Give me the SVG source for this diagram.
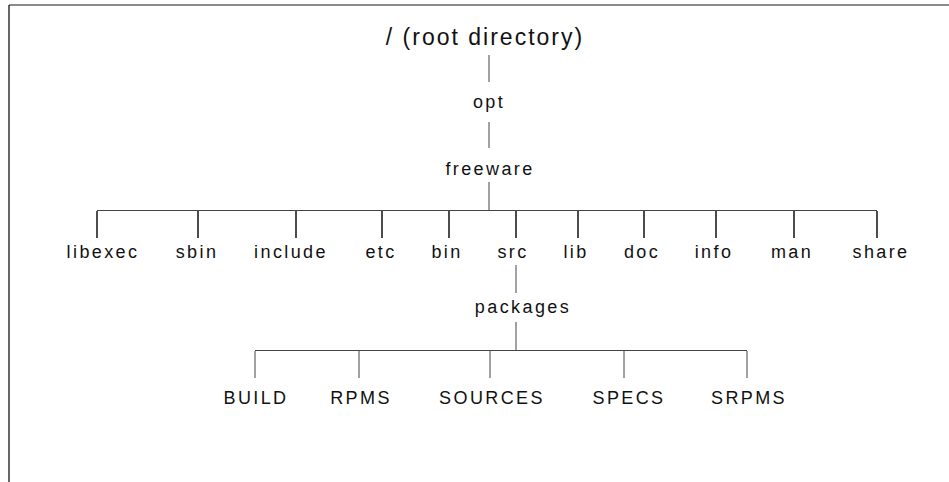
<svg xmlns="http://www.w3.org/2000/svg" width="949" height="482" viewBox="0 0 949 482">
  <style>
    .lbl { font-family: "Liberation Sans", Arial, sans-serif; font-size: 18px; letter-spacing: 2.4px; fill: #111; text-anchor: middle; }
    .root { font-size: 23px; letter-spacing: 2px; }
    .bar { stroke: #444; stroke-width: 1; fill: none; }
    .tick { stroke: #000; stroke-width: 1.4; fill: none; }
    .stem { stroke: #444; stroke-width: 1; fill: none; }
  </style>
  <rect width="949" height="482" fill="#fff"/>
  <!-- page frame: top and left edges only -->
  <g id="frame">
    <line x1="9" y1="5" x2="949" y2="5" stroke="#666" stroke-width="1.6"/>
    <line x1="9" y1="5" x2="9" y2="482" stroke="#000" stroke-width="1.2"/>
  </g>

  <g id="connectors">
    <!-- trunk: root -> opt -> freeware -> bar -->
    <line class="stem" x1="489" y1="55" x2="489" y2="82"/>
    <line class="stem" x1="489" y1="122" x2="489" y2="148"/>
    <line class="stem" x1="489" y1="182" x2="489" y2="210.5"/>
    <!-- freeware children -->
    <line class="bar" x1="97" y1="210.5" x2="877" y2="210.5"/>
    <line class="tick" x1="97" y1="211" x2="97" y2="238"/>
    <line class="tick" x1="198" y1="211" x2="198" y2="238"/>
    <line class="tick" x1="296" y1="211" x2="296" y2="238"/>
    <line class="tick" x1="382" y1="211" x2="382" y2="238"/>
    <line class="tick" x1="449" y1="211" x2="449" y2="238"/>
    <line class="tick" x1="516" y1="211" x2="516" y2="238"/>
    <line class="tick" x1="578" y1="211" x2="578" y2="238"/>
    <line class="tick" x1="644" y1="211" x2="644" y2="238"/>
    <line class="tick" x1="716" y1="211" x2="716" y2="238"/>
    <line class="tick" x1="794" y1="211" x2="794" y2="238"/>
    <line class="tick" x1="877" y1="211" x2="877" y2="238"/>
    <!-- src -> packages -> bar -->
    <line class="stem" x1="516" y1="265" x2="516" y2="293"/>
    <line class="stem" x1="516" y1="322" x2="516" y2="350.5"/>
    <!-- packages children -->
    <line class="bar" x1="255" y1="350.5" x2="747" y2="350.5"/>
    <line class="stem" x1="255" y1="351" x2="255" y2="378"/>
    <line class="stem" x1="359" y1="351" x2="359" y2="378"/>
    <line class="stem" x1="490" y1="351" x2="490" y2="378"/>
    <line class="stem" x1="624" y1="351" x2="624" y2="378"/>
    <line class="stem" x1="747" y1="351" x2="747" y2="378"/>
  </g>

  <g id="root"><text class="lbl root" x="485" y="45">/ (root directory)</text></g>
  <g id="opt"><text class="lbl" x="489" y="108">opt</text></g>
  <g id="freeware"><text class="lbl" x="490" y="175">freeware</text></g>

  <g id="libexec"><text class="lbl" x="103" y="258">libexec</text></g>
  <g id="sbin"><text class="lbl" x="197" y="258">sbin</text></g>
  <g id="include"><text class="lbl" x="291" y="258">include</text></g>
  <g id="etc"><text class="lbl" x="381" y="258">etc</text></g>
  <g id="bin"><text class="lbl" x="447" y="258">bin</text></g>
  <g id="src"><text class="lbl" x="513" y="258">src</text></g>
  <g id="lib"><text class="lbl" x="576" y="258">lib</text></g>
  <g id="doc"><text class="lbl" x="642" y="258">doc</text></g>
  <g id="info"><text class="lbl" x="714" y="258">info</text></g>
  <g id="man"><text class="lbl" x="792" y="258">man</text></g>
  <g id="share"><text class="lbl" x="881" y="258">share</text></g>

  <g id="packages"><text class="lbl" x="523" y="313">packages</text></g>

  <g id="BUILD"><text class="lbl" x="256" y="404">BUILD</text></g>
  <g id="RPMS"><text class="lbl" x="361" y="404">RPMS</text></g>
  <g id="SOURCES"><text class="lbl" x="492" y="404">SOURCES</text></g>
  <g id="SPECS"><text class="lbl" x="629" y="404">SPECS</text></g>
  <g id="SRPMS"><text class="lbl" x="749" y="404">SRPMS</text></g>
</svg>
